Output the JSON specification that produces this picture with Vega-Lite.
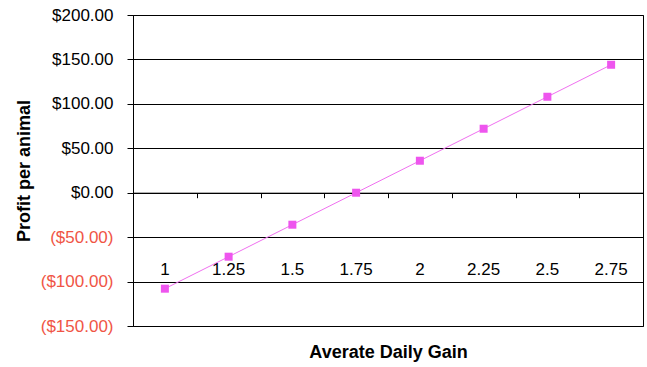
{
  "$schema": "https://vega.github.io/schema/vega-lite/v6.json",
  "width": 510,
  "height": 311,
  "autosize": {"type": "none"},
  "padding": {"left": 133, "top": 15, "right": 4, "bottom": 41},
  "background": "white",
  "config": {
    "view": {"stroke": "#000000", "strokeWidth": 1},
    "font": "Liberation Sans"
  },
  "data": {
    "values": [
      {"gain": "1", "profit": -108},
      {"gain": "1.25", "profit": -72},
      {"gain": "1.5", "profit": -36},
      {"gain": "1.75", "profit": 0},
      {"gain": "2", "profit": 36},
      {"gain": "2.25", "profit": 72},
      {"gain": "2.5", "profit": 108},
      {"gain": "2.75", "profit": 144}
    ]
  },
  "resolve": {"axis": {"x": "independent"}},
  "layer": [
    {
      "mark": {"type": "line", "color": "#f070f0", "strokeWidth": 1},
      "encoding": {
        "x": {
          "field": "gain", "type": "ordinal", "sort": null,
          "scale": {"type": "band", "paddingInner": 0, "paddingOuter": 0},
          "axis": {
            "orient": "bottom",
            "offset": -67,
            "ticks": false,
            "domain": false,
            "labelAngle": 0,
            "labelFont": "Liberation Sans",
            "labelFontSize": 17,
            "labelColor": "#000000",
            "labelPadding": 2,
            "title": "Averate Daily Gain",
            "titleFont": "Liberation Sans",
            "titleFontSize": 18,
            "titleFontWeight": "bold",
            "titleColor": "#000000",
            "titlePadding": 66
          }
        },
        "y": {
          "field": "profit", "type": "quantitative",
          "scale": {"domain": [-150, 200], "nice": false, "zero": false},
          "axis": {
            "values": [-150, -100, -50, 0, 50, 100, 150, 200],
            "grid": true,
            "gridColor": "#000000",
            "gridOpacity": 1,
            "gridWidth": 1,
            "domainColor": "#000000",
            "tickColor": "#000000",
            "tickSize": 6,
            "labelPadding": 14,
            "labelFont": "Liberation Sans",
            "labelFontSize": 17,
            "labelExpr": "datum.value < 0 ? '($' + format(-datum.value, '.2f') + ')' : '$' + format(datum.value, '.2f')",
            "labelColor": {"condition": {"test": "datum.value < 0", "value": "#f05545"}, "value": "#000000"},
            "title": "Profit per animal",
            "titleFont": "Liberation Sans",
            "titleFontSize": 18,
            "titleFontWeight": "bold",
            "titleColor": "#000000",
            "titlePadding": 7
          }
        }
      }
    },
    {
      "mark": {"type": "square", "color": "#ee55ee", "opacity": 1, "filled": true, "size": 64},
      "encoding": {
        "x": {
          "field": "gain", "type": "ordinal", "sort": null,
          "axis": {
            "orient": "bottom",
            "offset": -133.3,
            "labels": false,
            "tickBand": "extent",
            "tickSize": 5,
            "tickColor": "#000000",
            "domain": true,
            "domainColor": "#000000",
            "title": null
          }
        },
        "y": {"field": "profit", "type": "quantitative"}
      }
    }
  ]
}
